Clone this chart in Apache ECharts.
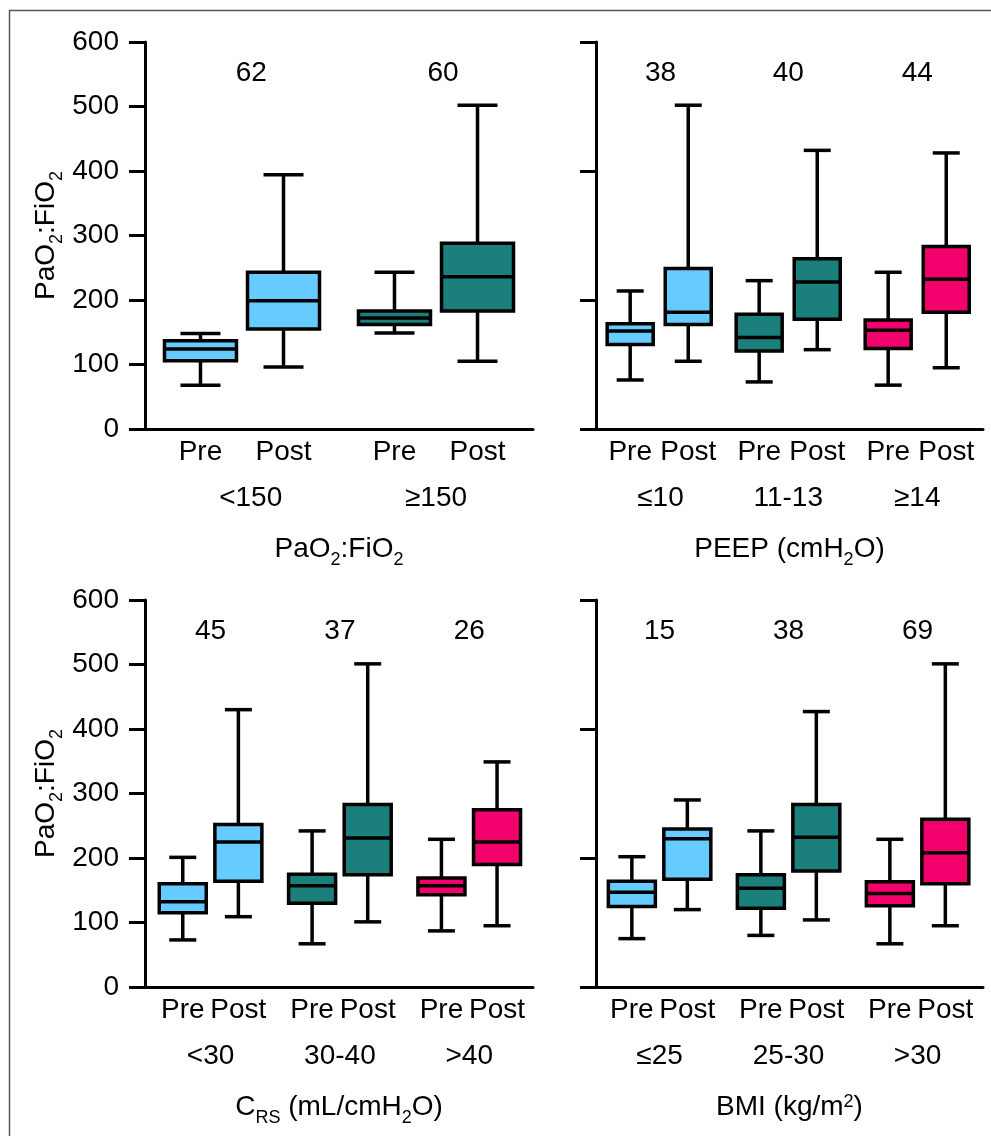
<!DOCTYPE html>
<html>
<head>
<meta charset="utf-8">
<script src="https://cdn.jsdelivr.net/npm/echarts@6/dist/echarts.min.js"></script>
<style>
html,body{margin:0;padding:0;background:#fff;}
#chart{width:991px;height:1136px;}
</style>
</head>
<body>
<div id="chart"></div>
<script>
// ---------------- DATA ----------------
// each box: [min, Q1, median, Q3, max]
const phaseLabels = ['Pre', 'Post'];

const pfCategories = ['<150', '≥150'];
const pfN = [62, 60];
const pfPre  = [[68, 106, 124, 137, 148], [149, 162, 172, 183, 243]];
const pfPost = [[96, 155, 199, 243, 394], [105, 183, 236, 288, 502]];

const peepCategories = ['≤10', '11-13', '≥14'];
const peepN = [38, 40, 44];
const peepPre  = [[76, 131, 152, 163, 214], [73, 121, 142, 178, 230], [68, 125, 153, 169, 243]];
const peepPost = [[105, 162, 181, 249, 502], [123, 170, 228, 264, 432], [95, 181, 232, 283, 428]];

const crsCategories = ['<30', '30-40', '>40'];
const crsN = [45, 37, 26];
const crsPre  = [[73, 115, 132, 160, 201], [67, 130, 157, 175, 242], [87, 143, 157, 169, 229]];
const crsPost = [[109, 164, 225, 252, 430], [101, 174, 231, 283, 501], [95, 190, 225, 275, 349]];

const bmiCategories = ['≤25', '25-30', '>30'];
const bmiN = [15, 38, 69];
const bmiPre  = [[75, 125, 147, 164, 202], [80, 122, 153, 174, 242], [67, 126, 145, 163, 229]];
const bmiPost = [[120, 167, 230, 245, 290], [104, 180, 232, 283, 427], [95, 160, 208, 260, 501]];

const yAxisTitle = 'PaO{sub|2}:FiO{sub|2}';
const panelTitles = ['PaO{sub|2}:FiO{sub|2}', 'PEEP (cmH{sub|2}O)', 'C{sub|RS} (mL/cmH{sub|2}O)', 'BMI (kg/m{sup|2})'];

// ---------------- STYLE / LAYOUT ----------------
const LIGHT = '#66CCFF', TEAL = '#1B7F7C', PINK = '#F2006B';
const FONT = '"Liberation Sans", Arial, Helvetica, sans-serif';
const FS = 28;
const LW = 3.5;
const richText = {
  sub: { fontSize: 18, fontFamily: FONT, color: '#000', verticalAlign: 'bottom', padding: [0, 0, -6, 0] },
  sup: { fontSize: 18, fontFamily: FONT, color: '#000', verticalAlign: 'top' }
};

const panels = [
  { cats: pfCategories, n: pfN, pre: pfPre, post: pfPost, colors: [LIGHT, TEAL], title: panelTitles[0],
    grid: { left: 145, top: 42, width: 388, height: 387 }, off: [0.286, 0.714], boxW: 72, capW: 40, showY: true,
    catShift: [0.045, 0], nShift: [0.048, 0.036] },
  { cats: peepCategories, n: peepN, pre: peepPre, post: peepPost, colors: [LIGHT, TEAL, PINK], title: panelTitles[1],
    grid: { left: 596, top: 42, width: 387, height: 387 }, off: [0.265, 0.715], boxW: 46, capW: 27, showY: false,
    catShift: [0.01, 0, 0], nShift: [0.01, 0, 0] },
  { cats: crsCategories, n: crsN, pre: crsPre, post: crsPost, colors: [LIGHT, TEAL, PINK], title: panelTitles[2],
    grid: { left: 145, top: 600, width: 388, height: 387 }, off: [0.292, 0.722], boxW: 47, capW: 27, showY: true,
    catShift: [0, 0, 0], nShift: [0, 0, 0] },
  { cats: bmiCategories, n: bmiN, pre: bmiPre, post: bmiPost, colors: [LIGHT, TEAL, PINK], title: panelTitles[3],
    grid: { left: 596, top: 600, width: 387, height: 387 }, off: [0.278, 0.708], boxW: 47, capW: 27, showY: false,
    catShift: [0, 0, 0], nShift: [0, 0, 0] }
];
const nLabelY = 552;

function boxRenderer(panel) {
  return function (params, api) {
    const x = api.value(0);
    const c = (d) => api.coord([x, api.value(d)]);
    const pMin = c(1), pQ1 = c(2), pMed = c(3), pQ3 = c(4), pMax = c(5);
    const cx = pMin[0];
    const bw = panel.boxW, cw = panel.capW;
    const color = panel.colors[Math.floor(params.dataIndex / 2)];
    const st = { stroke: '#000', lineWidth: LW };
    return {
      type: 'group',
      children: [
        { type: 'line', shape: { x1: cx, y1: pMax[1], x2: cx, y2: pQ3[1] }, style: st },
        { type: 'line', shape: { x1: cx, y1: pQ1[1], x2: cx, y2: pMin[1] }, style: st },
        { type: 'line', shape: { x1: cx - cw / 2, y1: pMax[1], x2: cx + cw / 2, y2: pMax[1] }, style: st },
        { type: 'line', shape: { x1: cx - cw / 2, y1: pMin[1], x2: cx + cw / 2, y2: pMin[1] }, style: st },
        { type: 'rect', shape: { x: cx - bw / 2, y: pQ3[1], width: bw, height: pQ1[1] - pQ3[1] },
          style: { fill: color, stroke: '#000', lineWidth: LW } },
        { type: 'line', shape: { x1: cx - bw / 2, y1: pMed[1], x2: cx + bw / 2, y2: pMed[1] }, style: st }
      ]
    };
  };
}

function nRenderer(params, api) {
  const p = api.coord([api.value(0), api.value(1)]);
  return {
    type: 'text', x: p[0], y: p[1],
    style: { text: String(api.value(2)), fontSize: FS, fontFamily: FONT, fill: '#000', align: 'center', verticalAlign: 'middle' }
  };
}

const option = {
  backgroundColor: '#fff',
  animation: false,
  textStyle: { fontFamily: FONT },
  graphic: [{
    type: 'rect', silent: true, z: -10,
    shape: { x: 9.5, y: 10.5, width: 1200, height: 1300 },
    style: { fill: 'none', stroke: '#555', lineWidth: 1.5 }
  }],
  grid: [], xAxis: [], yAxis: [], series: []
};

panels.forEach((p, i) => {
  const nG = p.cats.length;
  option.grid.push(Object.assign({ containLabel: false }, p.grid));
  const boxX = [];
  p.cats.forEach((_, g) => { boxX.push(g + p.off[0]); boxX.push(g + p.off[1]); });
  const midX = p.cats.map((_, g) => g + (p.off[0] + p.off[1]) / 2);
  const catX = midX.map((m, g) => m + p.catShift[g]);
  const nX = midX.map((m, g) => m + p.nShift[g]);

  // main x axis with Pre/Post labels
  option.xAxis.push({
    type: 'value', gridIndex: i, min: 0, max: nG, position: 'bottom',
    axisLine: { show: true, onZero: false, lineStyle: { color: '#000', width: 3 } },
    axisTick: { show: false }, splitLine: { show: false },
    axisLabel: {
      customValues: boxX, margin: 9, fontSize: FS, color: '#000', fontFamily: FONT,
      formatter: (v) => { const f = v - Math.floor(v + 1e-9); return f < 0.5 ? phaseLabels[0] : phaseLabels[1]; }
    },
    name: p.title, nameLocation: 'middle', nameGap: 106,
    nameTextStyle: { fontSize: FS, color: '#000', fontFamily: FONT, rich: richText }
  });
  // group labels axis
  option.xAxis.push({
    type: 'value', gridIndex: i, min: 0, max: nG, position: 'bottom',
    axisLine: { show: false, onZero: false }, axisTick: { show: false }, splitLine: { show: false },
    axisLabel: {
      customValues: catX, margin: 55, fontSize: FS, color: '#000', fontFamily: FONT,
      formatter: (v) => p.cats[Math.floor(v)]
    }
  });

  option.yAxis.push({
    type: 'value', gridIndex: i, min: 0, max: 600, interval: p.showY ? 100 : 200,
    axisLine: { show: true, lineStyle: { color: '#000', width: 3 } },
    axisTick: { show: true, length: 16, lineStyle: { color: '#000', width: 3 } },
    splitLine: { show: false },
    axisLabel: { show: p.showY, margin: 26, fontSize: FS, color: '#000', fontFamily: FONT },
    name: p.showY ? yAxisTitle : '', nameLocation: 'middle', nameGap: 85,
    nameTextStyle: { fontSize: FS, color: '#000', fontFamily: FONT, rich: richText }
  });

  const boxData = [];
  p.cats.forEach((_, g) => {
    boxData.push([boxX[2 * g]].concat(p.pre[g]));
    boxData.push([boxX[2 * g + 1]].concat(p.post[g]));
  });
  option.series.push({
    type: 'custom', xAxisIndex: 2 * i, yAxisIndex: i,
    renderItem: boxRenderer(p),
    encode: { x: 0, y: [1, 2, 3, 4, 5] },
    data: boxData, clip: false
  });
  option.series.push({
    type: 'custom', xAxisIndex: 2 * i, yAxisIndex: i,
    renderItem: nRenderer,
    encode: { x: 0, y: 1 },
    data: p.n.map((n, g) => [nX[g], nLabelY, n]), clip: false
  });
});

const chart = echarts.init(document.getElementById('chart'), null, { renderer: 'canvas' });
chart.setOption(option);
</script>
</body>
</html>
